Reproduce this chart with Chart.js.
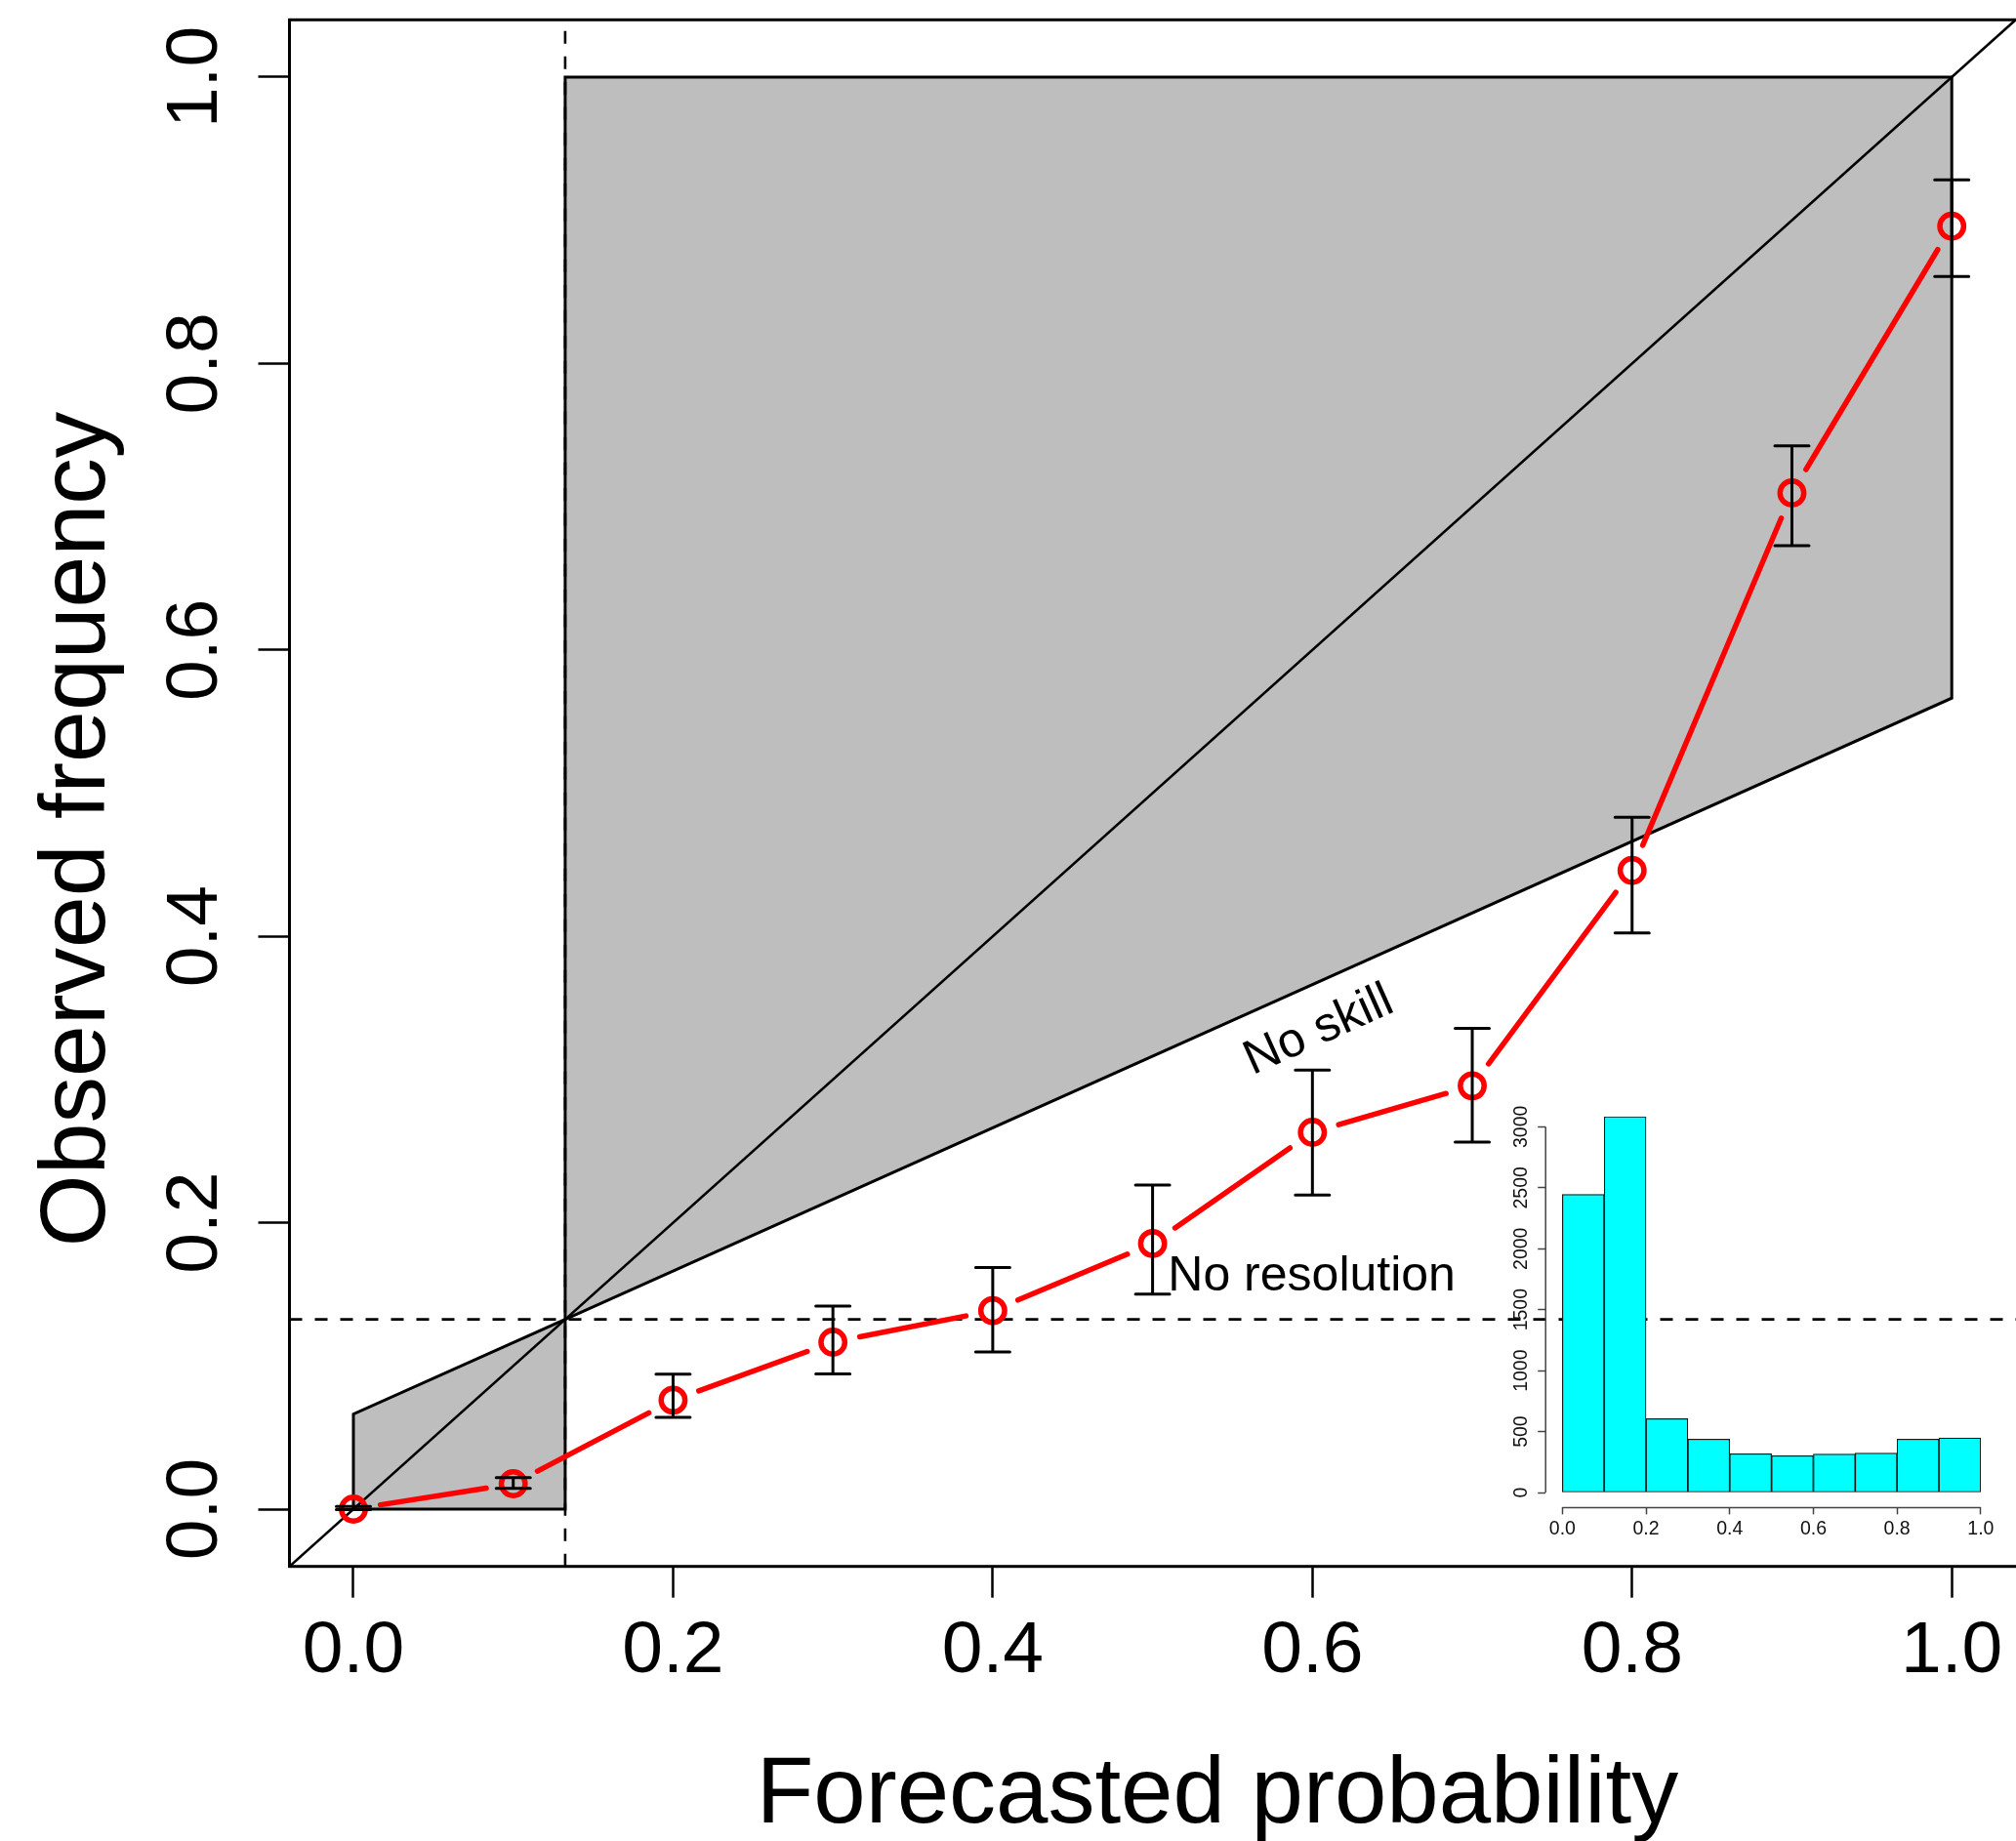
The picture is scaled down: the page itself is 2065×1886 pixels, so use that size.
<!DOCTYPE html>
<html>
<head>
<meta charset="utf-8">
<title>Reliability diagram</title>
<script src="https://cdn.jsdelivr.net/npm/chart.js@4/dist/chart.umd.min.js"></script>
<style>
  html, body { margin: 0; padding: 0; overflow: hidden; background: #fff; }
  #wrap { position: relative; width: 2065px; height: 1886px; overflow: hidden; }
  #mainChart { position: absolute; left: 0; top: 0; }
  #insetChart { position: absolute; left: 1500px; top: 1080px; }
</style>
</head>
<body>
<div id="wrap">
  <canvas id="mainChart" width="2215" height="1886"></canvas>
  <canvas id="insetChart" width="565" height="540"></canvas>
</div>
<script>
const FONT = '"Liberation Sans", Arial, Helvetica, sans-serif';

// reliability curve
const forecastProb = [0.0, 0.1, 0.2, 0.3, 0.4, 0.5, 0.6, 0.7, 0.8, 0.9, 1.0];
const observedFreq = [0.000, 0.0177, 0.0761, 0.1166, 0.1386, 0.1855, 0.2631, 0.2956, 0.4460, 0.7096, 0.8959];
const errUpper     = [0.0019, 0.0220, 0.0943, 0.1418, 0.1688, 0.2263, 0.3065, 0.3358, 0.4831, 0.7425, 0.9282];
const errLower     = [-0.0004, 0.0145, 0.0641, 0.0945, 0.1097, 0.1502, 0.2193, 0.2563, 0.4024, 0.6728, 0.8607];

// climatology + no-skill shading
const climatology = 0.1325;
const noSkillLowX  = [0, 0, 0.1325, 0.1325, 0];
const noSkillLowY  = [0, 0.0663, 0.1325, 0, 0];
const noSkillHighX = [0.1325, 0.1325, 1, 1, 0.1325];
const noSkillHighY = [0.1325, 1, 1, 0.5663, 0.1325];
const diagonalX = [-0.1, 1.3];

// axis ticks
const xTicks = [0, 0.2, 0.4, 0.6, 0.8, 1.0];
const yTicks = [0, 0.2, 0.4, 0.6, 0.8, 1.0];

// inset histogram
const histBinMids = [0.05, 0.15, 0.25, 0.35, 0.45, 0.55, 0.65, 0.75, 0.85, 0.95];
const histCounts  = [2445, 3083, 606, 438, 318, 302, 315, 323, 438, 448];
const histXTicks = [0, 0.2, 0.4, 0.6, 0.8, 1.0];
const histYTicks = [0, 500, 1000, 1500, 2000, 2500, 3000];

const X_MIN = -0.04, X_MAX = 1.121, Y_MIN = -0.04, Y_MAX = 1.04;

const pts = (xs, ys) => xs.map((x, i) => ({x: x, y: ys[i]}));

// draws the gapped red line, the error bars, the labels and the box
const reliabilityPlugin = {
  id: 'reliability',
  beforeDatasetDraw(chart, args) {
    if (args.index !== 4) return;
    const {ctx} = chart;
    const sx = chart.scales.x, sy = chart.scales.y;
    const GAP = 28;
    ctx.save();
    ctx.strokeStyle = '#FF0000';
    ctx.lineWidth = 5.5;
    ctx.lineCap = 'round';
    for (let i = 0; i < forecastProb.length - 1; i++) {
      const x0 = sx.getPixelForValue(forecastProb[i]), y0 = sy.getPixelForValue(observedFreq[i]);
      const x1 = sx.getPixelForValue(forecastProb[i + 1]), y1 = sy.getPixelForValue(observedFreq[i + 1]);
      const dx = x1 - x0, dy = y1 - y0, len = Math.hypot(dx, dy);
      if (len <= 2 * GAP) continue;
      const ux = dx / len, uy = dy / len;
      ctx.beginPath();
      ctx.moveTo(x0 + ux * GAP, y0 + uy * GAP);
      ctx.lineTo(x1 - ux * GAP, y1 - uy * GAP);
      ctx.stroke();
    }
    ctx.restore();
  },
  afterDatasetDraw(chart, args) {
    if (args.index !== 4) return;
    const {ctx} = chart;
    const sx = chart.scales.x, sy = chart.scales.y;
    const half = 17.5;
    ctx.save();
    ctx.strokeStyle = '#000';
    ctx.lineWidth = 3;
    ctx.lineCap = 'round';
    forecastProb.forEach((p, i) => {
      const x = sx.getPixelForValue(p);
      const yHi = sy.getPixelForValue(errUpper[i]);
      const yLo = sy.getPixelForValue(errLower[i]);
      ctx.beginPath();
      ctx.moveTo(x, yLo); ctx.lineTo(x, yHi);
      ctx.moveTo(x - half, yHi); ctx.lineTo(x + half, yHi);
      ctx.moveTo(x - half, yLo); ctx.lineTo(x + half, yLo);
      ctx.stroke();
    });
    ctx.restore();
  },
  afterDatasetsDraw(chart) {
    const {ctx, chartArea} = chart;
    const sx = chart.scales.x, sy = chart.scales.y;
    ctx.save();
    ctx.fillStyle = '#000';
    ctx.font = '50px ' + FONT;

    // "No skill" along the no-skill line
    const ang = Math.atan2(sy.getPixelForValue(0.5663) - sy.getPixelForValue(climatology),
                           sx.getPixelForValue(1) - sx.getPixelForValue(climatology));
    ctx.save();
    ctx.translate(sx.getPixelForValue(0.604), sy.getPixelForValue(0.334));
    ctx.rotate(ang);
    ctx.textAlign = 'center';
    ctx.textBaseline = 'middle';
    ctx.fillText('No skill', 0, 0);
    ctx.restore();

    ctx.textAlign = 'left';
    ctx.textBaseline = 'alphabetic';
    ctx.fillText('No resolution', sx.getPixelForValue(0.5096), sy.getPixelForValue(0.1529));

    // plot box
    ctx.strokeStyle = '#000';
    ctx.lineWidth = 3;
    ctx.strokeRect(chartArea.left, chartArea.top, chartArea.right - chartArea.left, chartArea.bottom - chartArea.top);
    ctx.restore();
  }
};

const mainChart = new Chart(document.getElementById('mainChart'), {
  type: 'scatter',
  data: {
    datasets: [
      { // 0: no-skill area, low side
        data: pts(noSkillLowX, noSkillLowY),
        showLine: true, fill: 'shape', tension: 0,
        backgroundColor: '#BEBEBE', borderColor: '#000', borderWidth: 3,
        pointRadius: 0, order: 6
      },
      { // 1: no-skill area, high side
        data: pts(noSkillHighX, noSkillHighY),
        showLine: true, fill: 'shape', tension: 0,
        backgroundColor: '#BEBEBE', borderColor: '#000', borderWidth: 3,
        pointRadius: 0, order: 5
      },
      { // 2: perfect reliability
        data: pts(diagonalX, diagonalX),
        showLine: true, fill: false,
        borderColor: '#000', borderWidth: 2.6, pointRadius: 0, order: 4
      },
      { // 3: no resolution (horizontal) + climatology (vertical)
        data: [{x: X_MIN, y: climatology}, {x: X_MAX, y: climatology}, {x: null, y: null},
               {x: climatology, y: Y_MIN}, {x: climatology, y: Y_MAX}],
        showLine: true, spanGaps: false, fill: false,
        borderColor: '#000', borderWidth: 2.6, borderDash: [13, 13],
        pointRadius: 0, order: 3
      },
      { // 4: observed frequency
        data: pts(forecastProb, observedFreq),
        showLine: false,
        pointStyle: 'circle', pointRadius: 12.2, pointBorderWidth: 5.5,
        pointBorderColor: '#FF0000', pointBackgroundColor: 'rgba(0,0,0,0)',
        order: 1
      }
    ]
  },
  options: {
    responsive: false,
    animation: false,
    devicePixelRatio: 1,
    events: [],
    layout: { padding: { top: 20.3, right: 0, bottom: 0, left: 0 } },
    plugins: { legend: { display: false }, tooltip: { enabled: false } },
    scales: {
      x: {
        type: 'linear', position: 'bottom',
        min: X_MIN, max: X_MAX,
        afterBuildTicks: s => { s.ticks = xTicks.map(v => ({value: v})); },
        afterFit: s => { s.height = 1886 - 1604.7; },
        border: { display: false },
        grid: { display: true, drawOnChartArea: false, drawTicks: true, tickLength: 32,
                tickWidth: 2.5, tickColor: '#000', color: '#000' },
        ticks: { color: '#000', font: { family: FONT, size: 75 }, padding: 11,
                 maxRotation: 0, autoSkip: false, callback: v => Number(v).toFixed(1) },
        title: { display: true, text: 'Forecasted probability', color: '#000',
                 font: { family: FONT, size: 96, lineHeight: 1 }, padding: { top: 0, bottom: -3 } }
      },
      y: {
        type: 'linear', position: 'left',
        min: Y_MIN, max: Y_MAX,
        afterBuildTicks: s => { s.ticks = yTicks.map(v => ({value: v})); },
        afterFit: s => { s.width = 296.5; },
        border: { display: false },
        grid: { display: true, drawOnChartArea: false, drawTicks: true, tickLength: 32,
                tickWidth: 2.5, tickColor: '#000', color: '#000' },
        ticks: { color: '#000', font: { family: FONT, size: 75, lineHeight: 0.01 }, padding: 11,
                 minRotation: 90, maxRotation: 90, crossAlign: 'center', autoSkip: false,
                 callback: v => Number(v).toFixed(1) },
        title: { display: true, text: 'Observed frequency\u2002\u00A0', color: '#000',
                 font: { family: FONT, size: 95, lineHeight: 1 }, padding: { top: 33, bottom: 0 } }
      }
    }
  },
  plugins: [reliabilityPlugin]
});

// R-style axis lines for the inset (only from first to last tick)
const insetAxesPlugin = {
  id: 'insetAxes',
  afterDraw(chart) {
    const {ctx, chartArea} = chart;
    const sx = chart.scales.x, sy = chart.scales.y;
    ctx.save();
    ctx.strokeStyle = '#444';
    ctx.lineWidth = 1.5;
    ctx.beginPath();
    ctx.moveTo(sx.getPixelForValue(histXTicks[0]), chartArea.bottom);
    ctx.lineTo(sx.getPixelForValue(histXTicks[histXTicks.length - 1]), chartArea.bottom);
    ctx.moveTo(chartArea.left, sy.getPixelForValue(histYTicks[0]));
    ctx.lineTo(chartArea.left, sy.getPixelForValue(histYTicks[histYTicks.length - 1]));
    ctx.stroke();
    ctx.restore();
  }
};

const insetChart = new Chart(document.getElementById('insetChart'), {
  type: 'bar',
  data: {
    datasets: [{
      data: pts(histBinMids, histCounts),
      backgroundColor: '#00FFFF',
      borderColor: '#1a1a1a',
      borderWidth: 1.2,
      borderSkipped: false,
      barPercentage: 1,
      categoryPercentage: 1
    }]
  },
  options: {
    responsive: false,
    animation: false,
    devicePixelRatio: 1,
    events: [],
    layout: { padding: { top: 48.6, right: 19, bottom: 0, left: 0 } },
    plugins: { legend: { display: false }, tooltip: { enabled: false } },
    scales: {
      x: {
        type: 'linear', min: -0.04, max: 1.04, offset: false,
        afterBuildTicks: s => { s.ticks = histXTicks.map(v => ({value: v})); },
        afterFit: s => { s.height = 540 - 464.4; },
        border: { display: false },
        grid: { offset: false, drawOnChartArea: false, drawTicks: true, tickLength: 7,
                tickWidth: 1.5, tickColor: '#444' },
        ticks: { color: '#111', font: { family: FONT, size: 19.5 }, padding: 3.6,
                 maxRotation: 0, autoSkip: false, callback: v => Number(v).toFixed(1) }
      },
      y: {
        type: 'linear', min: -123, max: 3206,
        afterBuildTicks: s => { s.ticks = histYTicks.map(v => ({value: v})); },
        afterFit: s => { s.width = 83.2; },
        border: { display: false },
        grid: { drawOnChartArea: false, drawTicks: true, tickLength: 8,
                tickWidth: 1.5, tickColor: '#444' },
        ticks: { color: '#111', font: { family: FONT, size: 19.5 }, padding: -5,
                 minRotation: 90, maxRotation: 90, crossAlign: 'center', autoSkip: false,
                 callback: v => String(v) }
      }
    }
  },
  plugins: [insetAxesPlugin]
});
</script>
</body>
</html>
